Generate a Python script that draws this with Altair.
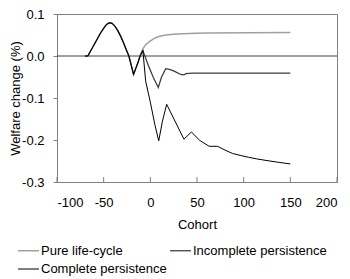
import altair as alt
import pandas as pd

# Shared path of all three series (cohorts -70 .. -18)
common_x = [-70, -67, -63, -60, -57, -53, -50, -47, -44, -41, -38, -35, -32, -29, -26, -23, -20, -18]
common_y = [0.0, 0.0, 0.016, 0.028, 0.040, 0.056, 0.066, 0.075, 0.079, 0.078, 0.071, 0.061, 0.048, 0.033, 0.016, 0.0, -0.026, -0.044]

pure_x = [-13, -11, -8, -5, -1, 5, 10, 17, 25, 35, 50, 60, 150]
pure_y = [-0.014, 0.0, 0.017, 0.027, 0.034, 0.043, 0.047, 0.050, 0.052, 0.053, 0.054, 0.055, 0.056]

inc_x = [-13, -11, -8, -2, 3, 8.5, 12, 16.5, 20.5, 25.5, 32.5, 36, 38, 45, 150]
inc_y = [-0.014, 0.0, 0.013, -0.023, -0.050, -0.075, -0.050, -0.030, -0.032, -0.036, -0.044, -0.045, -0.042, -0.041, -0.041]

comp_x = [-13, -11, -8, -5, 0, 5, 9, 13, 17.5, 36, 44, 53, 63, 72, 80, 88, 97, 105, 114, 125, 137, 150]
comp_y = [-0.014, 0.0, 0.013, -0.060, -0.110, -0.165, -0.202, -0.155, -0.115, -0.198, -0.181, -0.201, -0.215, -0.215, -0.224, -0.232, -0.237, -0.241, -0.245, -0.249, -0.253, -0.257]

series_names = ["Pure life-cycle", "Incomplete persistence", "Complete persistence"]
series_colors = ["#a0a0a0", "#3c3c3c", "#000000"]
series_widths = [1.5, 1.0, 2.0]

x_ticks = [-100, -50, 0, 50, 100, 150, 200]
y_ticks = [-0.3, -0.2, -0.1, 0.0, 0.1]

rows = []
for name, xs, ys in zip(series_names, [pure_x, inc_x, comp_x], [pure_y, inc_y, comp_y]):
    for x, y in zip(common_x + xs, common_y + ys):
        rows.append({"series": name, "cohort": x, "value": y})
df = pd.DataFrame(rows)

W, H = 280, 168
FONT = "Liberation Sans"

legend = alt.Legend(
    title=None, orient="none", legendX=-40, legendY=225, columns=2, direction="horizontal",
    symbolType="stroke", symbolSize=441, labelOffset=1, columnPadding=0,
    rowPadding=-3, padding=0, labelFontSize=13, labelFont=FONT, labelColor="black",
)

xscale = alt.Scale(domain=[-100, 200], nice=False, zero=False)
yscale = alt.Scale(domain=[-0.3, 0.1], nice=False, zero=False)

lines = alt.Chart(df).mark_line(interpolate="linear").encode(
    x=alt.X("cohort:Q", scale=xscale, title="Cohort",
            axis=alt.Axis(values=x_ticks, ticks=False, labelPadding=14, titlePadding=9,
                          labelExpr="datum.value < 0 ? '-' + format(-datum.value, 'd') : format(datum.value, 'd')")),
    y=alt.Y("value:Q", scale=yscale, title="Welfare change (%)",
            axis=alt.Axis(values=y_ticks, tickSize=4, labelPadding=9, titleX=-35, titleY=H / 2,
                          labelExpr="datum.value < -0.00001 ? '-' + format(-datum.value, '.1f') : format(abs(datum.value), '.1f')")),
    color=alt.Color("series:N", scale=alt.Scale(domain=series_names, range=series_colors),
                    sort=series_names, legend=legend),
    strokeWidth=alt.StrokeWidth("series:N", scale=alt.Scale(domain=series_names, range=series_widths),
                                sort=series_names, legend=legend),
)

zero = alt.Chart(pd.DataFrame({"v": [0.0]})).mark_rule(color="#404040", strokeWidth=1).encode(
    y=alt.Y("v:Q", scale=yscale)
)

ticks = alt.Chart(pd.DataFrame({"t": x_ticks})).mark_rule(color="#808080", strokeWidth=1).encode(
    x=alt.X("t:Q", scale=xscale), y=alt.value(H), y2=alt.value(H - 5)
)

chart = alt.layer(zero, ticks, lines).properties(
    width=W, height=H,
    autosize=alt.AutoSizeParams(type="none"),
    padding={"left": 49, "top": 6, "right": 5, "bottom": 97},
).configure_view(stroke="#808080", strokeWidth=1).configure_axis(
    domainColor="#808080", tickColor="#808080", grid=False,
    labelFont=FONT, labelFontSize=13, labelColor="black",
    titleFont=FONT, titleFontSize=13, titleFontWeight="normal", titleColor="black",
)

chart.save("out.html", embed_options={"renderer": "svg", "actions": False})
